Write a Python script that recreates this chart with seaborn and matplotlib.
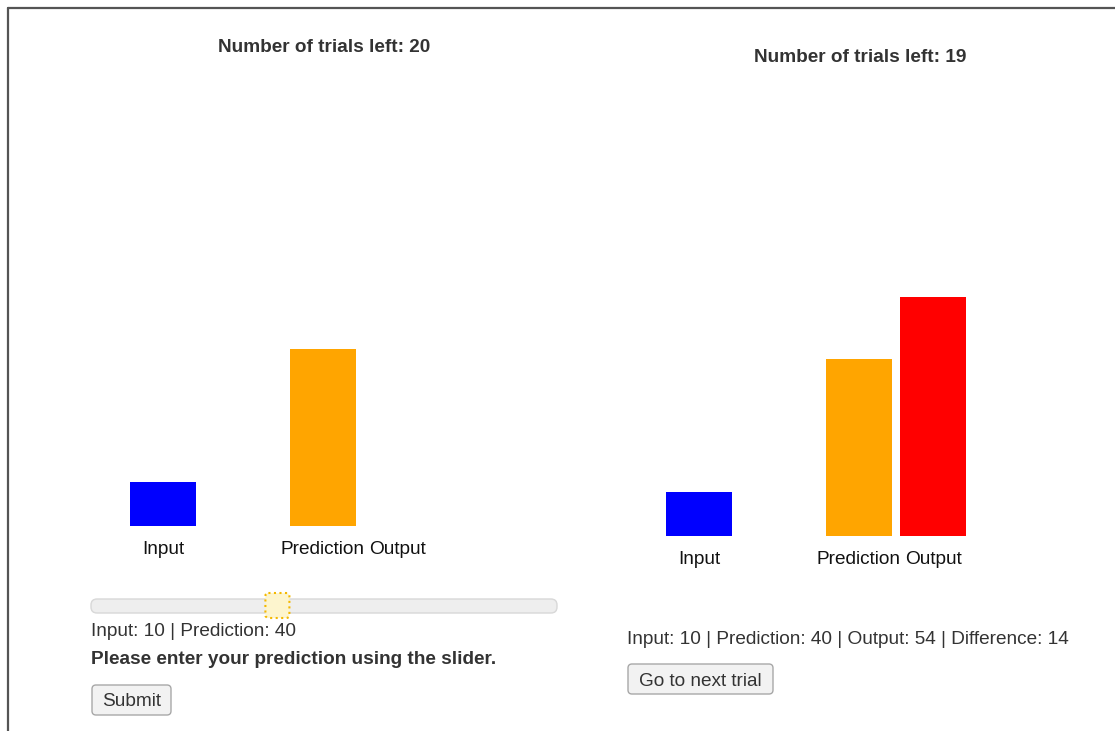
import numpy as np
import pandas as pd
import seaborn as sns
import matplotlib.pyplot as plt
from matplotlib.patches import FancyBboxPatch

# data
categories = ['Input', 'Prediction', 'Output']
bar_colors = ['#0000ff', '#ffa500', '#ff0000']
trials_left = [20, 19]
trial1_values = [10, 40, np.nan]   # output not revealed yet
trial2_values = [10, 40, 54]
slider_min, slider_max = 0, 100

# layout (pixels)
W, H = 1115, 731
slot = [0, 160 / 74, 234 / 74]     # bar slots, in units of 74 px
PX_PER_UNIT = 4.42

sns.set_theme(style='white')
plt.rcParams['font.family'] = ['Liberation Sans', 'DejaVu Sans']
txt = '#333333'
fs = 13.7

fig = plt.figure(figsize=(W / 100, H / 100), dpi=100)
bg = fig.add_axes([0, 0, 1, 1])
bg.set_xlim(0, W)
bg.set_ylim(H, 0)
bg.axis('off')


def px_axes(x0, y0, x1, y1):
    return fig.add_axes([x0 / W, 1 - y1 / H, (x1 - x0) / W, (y1 - y0) / H])


def bar_panel(values, x_anchor, base_y):
    ax = px_axes(x_anchor - 60, 90, x_anchor + 330, base_y)
    df = pd.DataFrame({'slot': slot, 'value': values, 'name': categories})
    sns.barplot(data=df, x='slot', y='value', hue='name',
                palette=dict(zip(categories, bar_colors)), saturation=1, native_scale=True,
                width=66 / 74, linewidth=0, errorbar=None, legend=False, ax=ax)
    ax.set_xlim(-60 / 74, 330 / 74)
    ax.set_ylim(0, (base_y - 90) / PX_PER_UNIT)
    ax.set_xticks(slot, categories)
    ax.set_yticks([])
    ax.tick_params(axis='x', length=0, pad=11, labelsize=fs, labelcolor='#111111')
    ax.set_xlabel('')
    ax.set_ylabel('')
    ax.patch.set_alpha(0)
    for s in ax.spines.values():
        s.set_visible(False)
    return ax


bar_panel(trial1_values, 163, 526)
bar_panel(trial2_values, 699, 536)

# frame lines
bg.plot([8, W], [8, 8], color='#555555', lw=1.6)
bg.plot([8, 8], [8, H], color='#555555', lw=1.6)

# titles
bg.text(324.5, 48, f'Number of trials left: {trials_left[0]}', ha='center', va='center',
        fontsize=fs, weight='bold', color=txt)
bg.text(860, 58, f'Number of trials left: {trials_left[1]}', ha='center', va='center',
        fontsize=fs, weight='bold', color=txt)

# slider
track_x, track_w = 91, 466
bg.add_patch(FancyBboxPatch((track_x, 599), track_w, 14, boxstyle='round,pad=0,rounding_size=6',
                            fc='#eeeeee', ec='#d8d8d8', lw=1))
hx = track_x + (trial1_values[1] - slider_min) / (slider_max - slider_min) * track_w
bg.add_patch(FancyBboxPatch((hx - 12, 593), 24, 25, boxstyle='round,pad=0,rounding_size=3',
                            fc='#fdf5ce', ec='#f4b800', lw=1.5, ls=':'))

bg.text(91, 632, f'Input: {trial1_values[0]:.0f} | Prediction: {trial1_values[1]:.0f}',
        va='center', fontsize=fs, color=txt)
bg.text(91, 659, 'Please enter your prediction using the slider.', va='center',
        fontsize=fs, weight='bold', color=txt)

# buttons
bg.add_patch(FancyBboxPatch((92, 685), 79, 30, boxstyle='round,pad=0,rounding_size=4',
                            fc='#f2f2f2', ec='#a8a8a8', lw=1))
bg.text(131.5, 702, 'Submit', ha='center', va='center', fontsize=fs, color=txt)

diff = trial2_values[2] - trial2_values[1]
bg.text(627, 639, f'Input: {trial2_values[0]} | Prediction: {trial2_values[1]} | '
        f'Output: {trial2_values[2]} | Difference: {diff}', va='center', fontsize=fs, color=txt)
bg.add_patch(FancyBboxPatch((628, 664), 145, 30, boxstyle='round,pad=0,rounding_size=4',
                            fc='#f2f2f2', ec='#a8a8a8', lw=1))
bg.text(700.5, 682, 'Go to next trial', ha='center', va='center', fontsize=fs, color=txt)

fig.savefig('out.png', dpi=100)
